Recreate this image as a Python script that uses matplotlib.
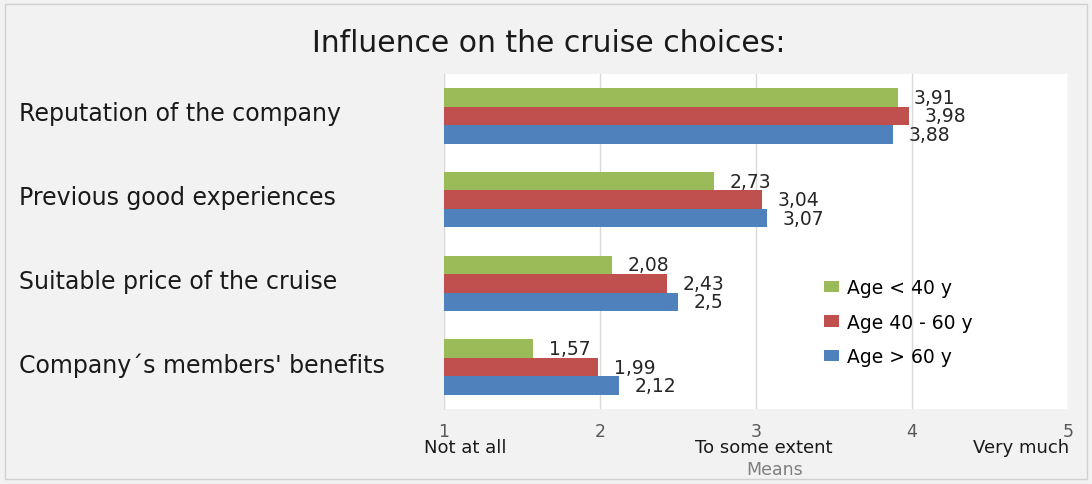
import matplotlib.pyplot as plt
import matplotlib.transforms as mtransforms
import numpy as np
from matplotlib.patches import Rectangle

categories = ["Reputation of the company", "Previous good experiences",
              "Suitable price of the cruise", "Company\u00b4s members' benefits"]
series_names = ["Age < 40 y", "Age 40 - 60 y", "Age > 60 y"]
young = [3.91, 2.73, 2.08, 1.57]
middle = [3.98, 3.04, 2.43, 1.99]
old = [3.88, 3.07, 2.5, 2.12]
tick_values = [1, 2, 3, 4, 5]
tick_words = ["Not at all", "", "To some extent", "", "Very much"]

colors = ["#9bbb59", "#c0504d", "#4f81bd"]

plt.rcParams['font.family'] = ['DejaVu Sans']


def fmt(v):
    # comma as decimal separator, no trailing zeros
    return ("%.2f" % v).rstrip("0").rstrip(".").replace(".", ",")


fig = plt.figure(figsize=(10.92, 4.85), dpi=100)
fig.patch.set_facecolor("#f2f2f2")
fig.patches.append(Rectangle((0.005, 0.01), 0.99, 0.98, transform=fig.transFigure,
                             fill=False, edgecolor="#d0d0d0", linewidth=1))
ax = fig.add_axes([0.4066, 0.1546, 0.5714, 0.6908])
ax.set_facecolor("white")

h = 0.22
ypos = np.arange(len(categories))
all_series = [young, middle, old]
for i, (vals, name, c) in enumerate(zip(all_series, series_names, colors)):
    y = ypos + (i - 1) * h
    ax.barh(y, vals, height=h, color=c, label=name, zorder=3)
    for yy, v in zip(y, vals):
        ax.text(v + 0.1, yy, fmt(v), va="center", ha="left", fontsize=13.5,
                color="#262626", zorder=4)

ax.set_xlim(1, 5)
ax.set_ylim(len(categories) - 0.5, -0.5)
ax.set_yticks(ypos)
ax.set_yticklabels([])
ax.tick_params(axis="y", length=0)
trans = mtransforms.blended_transform_factory(fig.transFigure, ax.transData)
for yy, cat in zip(ypos, categories):
    ax.text(0.017, yy - 0.03, cat, transform=trans, ha="left", va="center",
            fontsize=17, color="#1a1a1a")

ax.set_xticks(tick_values)
ax.set_xticklabels([str(t) for t in tick_values], fontsize=12.5, color="#595959")
ax.tick_params(axis="x", length=0, pad=9)
word_x = [1.135, None, 3.05, None, 4.70]
for wx, w in zip(word_x, tick_words):
    if w:
        ax.text(wx, -0.114, w, transform=ax.get_xaxis_transform(), ha="center", va="center",
                fontsize=13, color="#1a1a1a")
ax.text(3.12, -0.18, "Means", transform=ax.get_xaxis_transform(), ha="center", va="center",
        fontsize=12.5, color="#7f7f7f")
ax.grid(axis="x", color="#d9d9d9", linewidth=1, zorder=0)
for s in ["top", "right", "bottom"]:
    ax.spines[s].set_visible(False)
ax.spines["left"].set_color("#d9d9d9")

ax.legend(loc="upper left", bbox_to_anchor=(0.755, 0.424), bbox_transform=fig.transFigure,
          frameon=False, fontsize=13.5, borderpad=0, borderaxespad=0,
          handlelength=0.8, handleheight=0.55, labelspacing=0.82, handletextpad=0.4)

fig.text(0.5025, 0.91, "Influence on the cruise choices:", fontsize=21.5, ha="center",
         va="center", color="#1a1a1a")

fig.savefig("out.png", dpi=100, facecolor=fig.get_facecolor())
